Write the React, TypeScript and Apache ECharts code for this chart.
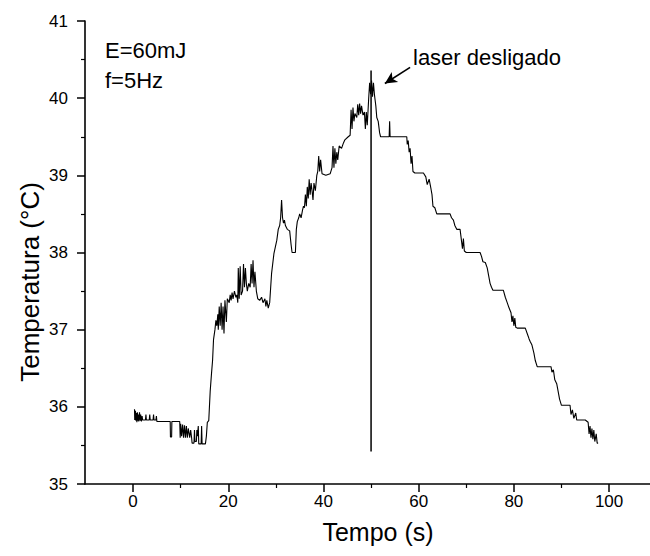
import React, { useEffect, useRef } from "react";
import * as echarts from "echarts";

// Heating phase (laser on): time (s) and temperature (°C)
const heatTime = [
  0.3, 0.35, 0.5, 0.6, 0.7, 0.8, 0.9, 1.0, 1.1, 1.2, 1.35, 1.5, 1.6, 1.75, 1.9, 2.0,
  2.6, 2.7, 2.8, 3.4, 3.5, 3.6, 4.2, 4.3, 4.4, 4.8, 4.9, 5.0, 7.8, 7.85, 8.1, 8.15,
  9.8, 9.9, 10.0, 10.2, 10.4, 10.6, 10.8, 11.0, 11.2, 11.4, 11.6, 11.9, 12.1, 12.3, 12.4, 12.8,
  12.9, 13.0, 13.3, 13.4, 13.5, 13.7, 13.8, 14.3, 14.4, 14.5, 15.2, 15.4, 15.6, 15.9,
  16.2, 16.5, 16.7, 16.9, 17.2, 17.4, 17.6, 17.8, 17.9, 18.1, 18.3, 18.5, 18.7, 18.9, 19.1, 19.3,
  19.6, 19.8, 20.2, 20.4, 20.6, 20.8, 21.0, 21.3, 21.6, 21.8, 22.0, 22.1, 22.3, 22.5, 22.7, 23.0,
  23.2, 23.4, 23.6, 23.8, 24.0, 24.3, 24.6, 24.8, 25.0, 25.2, 25.4, 25.6, 25.9, 26.2, 26.6, 27.0,
  27.3, 27.7, 27.9, 28.1, 28.4, 28.7, 29.1, 29.6, 30.2, 30.5, 30.8, 31.0, 31.2, 31.4, 31.6, 31.8,
  32.0, 32.4, 32.9, 33.2, 33.4, 34.1, 34.3, 34.5, 34.8, 35.0, 35.3, 35.6, 35.8, 36.0, 36.2, 36.4,
  36.6, 36.8, 37.0, 37.2, 37.4, 37.6, 37.8, 38.0, 38.3, 38.6, 38.8, 39.0, 39.2, 39.4, 39.7, 40.5,
  41.4, 41.8, 42.0, 42.2, 42.4, 42.6, 42.8, 43.0, 43.3, 43.8, 44.2, 44.5, 45.2, 45.6, 45.8, 46.0,
  46.2, 46.4, 46.6, 47.0, 47.2, 47.4, 47.6, 47.8, 48.0, 48.3, 48.6, 48.8, 49.0, 49.2, 49.5, 49.7,
  49.9, 50.1, 50.3, 50.5, 50.7, 50.9,
];
const heatTemp = [
  35.97, 35.83, 35.95, 35.82, 35.92, 35.8, 35.93, 35.82, 35.9, 35.81, 35.93, 35.82, 35.9, 35.81, 35.88, 35.83,
  35.83, 35.9, 35.83, 35.83, 35.9, 35.83, 35.83, 35.9, 35.83, 35.83, 35.88, 35.81, 35.81, 35.61, 35.61, 35.81,
  35.81, 35.6, 35.78, 35.62, 35.77, 35.6, 35.76, 35.6, 35.75, 35.6, 35.72, 35.6, 35.7, 35.6, 35.53, 35.53,
  35.7, 35.55, 35.55, 35.7, 35.62, 35.75, 35.52, 35.52, 35.75, 35.52, 35.52, 35.62, 35.8, 35.82,
  36.2, 36.45, 36.6, 36.87, 37.0, 37.12, 37.05, 37.2, 37.0, 37.3, 37.05, 37.35, 37.0, 37.3, 36.95, 37.38,
  37.1, 37.4, 37.35, 37.45, 37.38, 37.48, 37.4, 37.5, 37.42, 37.45, 37.35, 37.8, 37.4, 37.82, 37.45, 37.5,
  37.85, 37.55, 37.8, 37.6, 37.5, 37.6, 37.55, 37.85, 37.6, 37.9, 37.55, 37.75, 37.5, 37.4, 37.38, 37.42,
  37.35, 37.4, 37.3, 37.38, 37.28, 37.35, 37.73, 37.99, 38.16, 38.3, 38.35, 38.45, 38.68, 38.45, 38.38, 38.42,
  38.35, 38.3, 38.28, 38.1, 38.0, 38.0, 38.3, 38.4, 38.45, 38.5, 38.45, 38.55, 38.6, 38.58, 38.75, 38.6,
  38.85, 38.7, 38.95, 38.75, 38.9, 38.8, 38.68, 38.9, 38.8, 39.0, 39.05, 39.25, 39.05, 39.2, 39.02, 39.0,
  39.02, 39.1, 39.38, 39.1, 39.35, 39.15, 39.3, 39.2, 39.38, 39.35, 39.42, 39.46, 39.5, 39.52, 39.85, 39.6,
  39.88, 39.7, 39.8, 39.75, 39.92, 39.78, 39.93, 39.8, 39.9, 39.78, 39.82, 39.6, 39.82, 39.65, 40.0, 40.2,
  40.05, 40.23, 40.02, 40.2, 40.05, 39.95,
];

// Cooling phase (laser off)
const coolTime = [
  51.0, 51.2, 51.5, 51.8, 52.0, 53.8, 53.9, 54.0, 57.5, 57.6, 57.8, 58.0, 58.2, 58.4, 58.6, 58.8,
  59.2, 61.0, 61.5, 61.8, 62.2, 62.6, 62.8, 63.0, 63.4, 63.8, 66.6, 66.9, 67.3, 67.6, 68.0, 68.7,
  69.0, 69.2, 69.4, 69.6, 70.0, 72.9, 73.2, 73.5, 74.0, 74.4, 74.7, 75.0, 75.3, 75.6, 77.8, 78.2,
  78.6, 79.0, 79.4, 79.6, 79.8, 80.0, 80.2, 80.4, 80.7, 82.4, 82.8, 83.2, 83.4, 83.8, 84.2, 84.5,
  84.9, 87.8, 88.0, 88.3, 88.6, 89.0, 89.3, 89.6, 90.0, 91.8, 92.0, 92.3, 92.6, 93.0, 93.2, 95.0,
  95.6, 95.8, 96.0, 96.2, 96.4, 96.6, 96.8, 97.0, 97.3, 97.5, 97.7,
];
const coolTemp = [
  39.9, 39.75, 39.7, 39.55, 39.5, 39.5, 39.7, 39.5, 39.5, 39.4, 39.45, 39.3, 39.35, 39.15, 39.25, 39.05,
  39.03, 39.03, 38.98, 38.88, 38.95, 38.82, 38.75, 38.6, 38.58, 38.5, 38.5, 38.45, 38.42, 38.35, 38.3, 38.3,
  38.15, 38.05, 38.18, 38.02, 38.0, 38.0, 37.95, 37.88, 37.87, 37.8, 37.7, 37.6, 37.55, 37.51, 37.51, 37.42,
  37.35, 37.28, 37.22, 37.1, 37.18, 37.05, 37.15, 37.03, 37.02, 37.02, 36.95, 36.88, 36.85, 36.8, 36.7, 36.6,
  36.52, 36.52, 36.45, 36.48, 36.35, 36.3, 36.2, 36.1, 36.02, 36.02, 35.9, 35.96, 35.85, 35.92, 35.83, 35.83,
  35.8, 35.65, 35.75, 35.6, 35.72, 35.58, 35.7, 35.55, 35.65, 35.53, 35.53,
];

// Vertical marker where the laser is switched off
const laserOffTime = [50, 50];
const laserOffTemp = [35.42, 40.36];

// Arrow for the annotation (tail -> head)
const arrowTime = [58.2, 52.9];
const arrowTemp = [40.4, 40.19];

const majorTicks = [0, 20, 40, 60, 80, 100];
const minorTicks = [10, 30, 50, 70, 90];

const FONT = "'Liberation Sans', Arial, Helvetica, sans-serif";

export default function App() {
  const ref = useRef<HTMLDivElement>(null);

  useEffect(() => {
    if (!ref.current) return;
    const chart = echarts.init(ref.current, null, { renderer: "svg" });

    const curve = heatTime
      .map((t, i) => [t, heatTemp[i]])
      .concat(coolTime.map((t, i) => [t, coolTemp[i]]));
    const vline = laserOffTime.map((t, i) => [t, laserOffTemp[i]]);

    chart.setOption({
      animation: false,
      backgroundColor: "#fff",
      grid: { left: 85, right: 0, top: 21, bottom: 72, containLabel: false },
      xAxis: [
        {
          type: "value",
          min: -10.1,
          max: 108.6,
          axisLine: { show: true, onZero: false, lineStyle: { color: "#000", width: 1.6 } },
          axisTick: {
            show: true,
            customValues: majorTicks,
            length: 8,
            lineStyle: { color: "#000", width: 1.5 },
          },
          axisLabel: {
            customValues: majorTicks,
            color: "#000",
            fontFamily: FONT,
            fontSize: 17,
            margin: 9,
          },
          splitLine: { show: false },
        },
        {
          type: "value",
          min: -10.1,
          max: 108.6,
          position: "bottom",
          axisLine: { show: false, onZero: false },
          axisTick: {
            show: true,
            customValues: minorTicks,
            length: 4,
            lineStyle: { color: "#000", width: 1.2 },
          },
          axisLabel: { show: false },
          splitLine: { show: false },
        },
      ],
      yAxis: {
        type: "value",
        min: 35,
        max: 41,
        interval: 1,
        axisLine: { show: true, onZero: false, lineStyle: { color: "#000", width: 1.6 } },
        axisTick: { show: true, length: 8, lineStyle: { color: "#000", width: 1.5 } },
        minorTick: { show: true, splitNumber: 2, length: 4, lineStyle: { color: "#000", width: 1.2 } },
        axisLabel: { color: "#000", fontFamily: FONT, fontSize: 17, margin: 17 },
        splitLine: { show: false },
        minorSplitLine: { show: false },
      },
      series: [
        {
          type: "line",
          data: curve,
          showSymbol: false,
          symbol: "none",
          lineStyle: { color: "#000", width: 1.1 },
          markLine: {
            silent: true,
            symbol: ["none", "arrow"],
            symbolSize: [9, 12],
            label: { show: false },
            lineStyle: { color: "#000", width: 1.6, type: "solid" },
            data: [
              [
                { coord: [arrowTime[0], arrowTemp[0]] },
                { coord: [arrowTime[1], arrowTemp[1]] },
              ],
            ],
          },
        },
        {
          type: "line",
          data: vline,
          showSymbol: false,
          symbol: "none",
          lineStyle: { color: "#000", width: 1.5 },
        },
      ],
      graphic: [
        {
          type: "text",
          x: 105,
          y: 50,
          style: { text: "E=60mJ", fill: "#000", font: `22px ${FONT}`, verticalAlign: "middle" },
        },
        {
          type: "text",
          x: 105,
          y: 80,
          style: { text: "f=5Hz", fill: "#000", font: `22px ${FONT}`, verticalAlign: "middle" },
        },
        {
          type: "text",
          x: 413,
          y: 57,
          style: { text: "laser desligado", fill: "#000", font: `22px ${FONT}`, verticalAlign: "middle" },
        },
        {
          type: "text",
          x: 30,
          y: 282,
          rotation: Math.PI / 2,
          style: {
            text: "Temperatura (°C)",
            fill: "#000",
            font: `26px ${FONT}`,
            align: "center",
            verticalAlign: "middle",
          },
        },
        {
          type: "text",
          x: 378,
          y: 532,
          style: {
            text: "Tempo (s)",
            fill: "#000",
            font: `25px ${FONT}`,
            align: "center",
            verticalAlign: "middle",
          },
        },
      ],
    });

    return () => chart.dispose();
  }, []);

  return (
    <div
      ref={ref}
      style={{ position: "absolute", left: 0, top: 0, width: 650, height: 556, background: "#fff" }}
    />
  );
}
